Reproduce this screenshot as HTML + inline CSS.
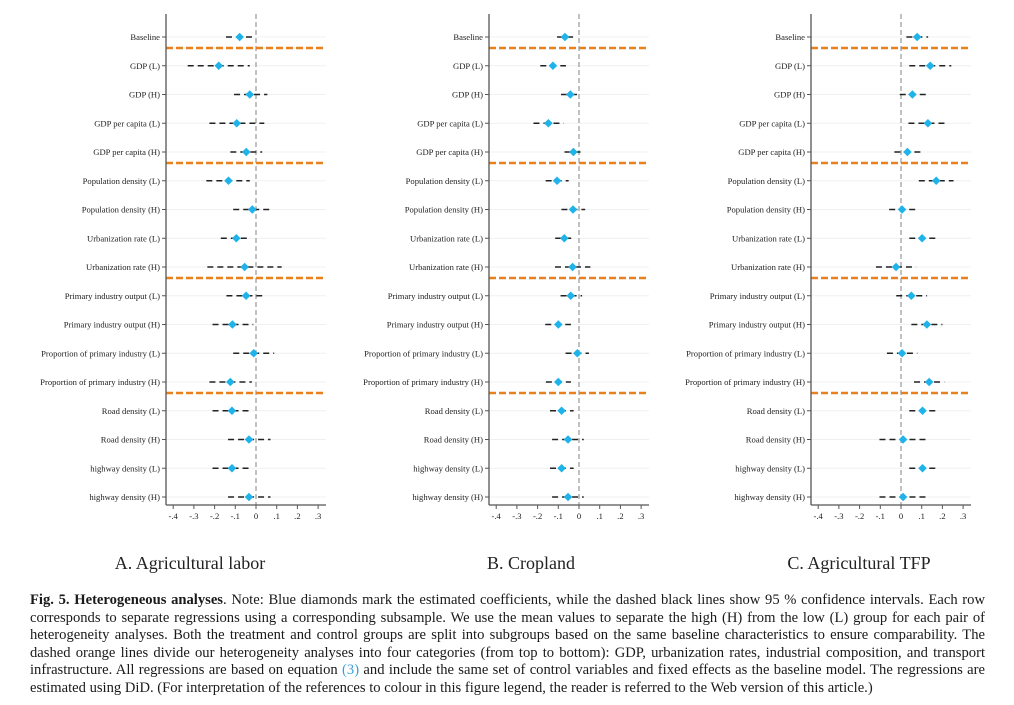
<!DOCTYPE html>
<html><head><meta charset="utf-8">
<style>
html,body{margin:0;padding:0;background:#fff;}
body{width:1014px;height:705px;position:relative;overflow:hidden;font-family:"Liberation Serif",serif;}
#fig{position:absolute;left:0;top:0;}
.ptitle{position:absolute;top:553px;font-size:18px;color:#222;white-space:nowrap;transform:translateX(-50%);}
#caption{position:absolute;left:30px;top:592px;width:955px;font-size:14.6px;line-height:17.5px;text-align:justify;color:#1a1a1a;}
#caption b{font-weight:bold;}
#caption .ref{color:#3aa0d8;}
</style></head>
<body>
<svg id="fig" width="1014" height="540" xmlns="http://www.w3.org/2000/svg"></svg>
<div class="ptitle" style="left:190px">A. Agricultural labor</div>
<div class="ptitle" style="left:531px">B. Cropland</div>
<div class="ptitle" style="left:859px">C. Agricultural TFP</div>
<div id="caption"><b>Fig. 5. Heterogeneous analyses</b>. Note: Blue diamonds mark the estimated coefficients, while the dashed black lines show 95 % confidence intervals. Each row corresponds to separate regressions using a corresponding subsample. We use the mean values to separate the high (H) from the low (L) group for each pair of heterogeneity analyses. Both the treatment and control groups are split into subgroups based on the same baseline characteristics to ensure comparability. The dashed orange lines divide our heterogeneity analyses into four categories (from top to bottom): GDP, urbanization rates, industrial composition, and transport infrastructure. All regressions are based on equation <span class="ref">(3)</span> and include the same set of control variables and fixed effects as the baseline model. The regressions are estimated using DiD. (For interpretation of the references to colour in this figure legend, the reader is referred to the Web version of this article.)</div>
<script>
const categories = ["Baseline","GDP (L)","GDP (H)","GDP per capita (L)","GDP per capita (H)","Population density (L)","Population density (H)","Urbanization rate (L)","Urbanization rate (H)","Primary industry output (L)","Primary industry output (H)","Proportion of primary industry (L)","Proportion of primary industry (H)","Road density (L)","Road density (H)","highway density (L)","highway density (H)"];
const tickValues = [-0.4,-0.3,-0.2,-0.1,0,0.1,0.2,0.3];
const tickLabels = ["-.4","-.3","-.2","-.1","0",".1",".2",".3"];
const dividerAfter = [0,4,8,12];
const coefA = [-0.079,-0.18,-0.03,-0.093,-0.047,-0.133,-0.018,-0.095,-0.055,-0.048,-0.114,-0.011,-0.124,-0.116,-0.034,-0.116,-0.034];
const lowA  = [-0.145,-0.33,-0.106,-0.225,-0.124,-0.24,-0.11,-0.17,-0.235,-0.143,-0.21,-0.11,-0.225,-0.21,-0.135,-0.21,-0.135];
const highA = [-0.016,-0.03,0.055,0.04,0.03,-0.03,0.064,-0.026,0.124,0.03,-0.013,0.088,-0.02,-0.018,0.07,-0.018,0.07];
const coefB = [-0.068,-0.126,-0.042,-0.148,-0.027,-0.106,-0.029,-0.071,-0.031,-0.04,-0.1,-0.008,-0.1,-0.084,-0.053,-0.084,-0.053];
const lowB  = [-0.106,-0.187,-0.087,-0.22,-0.07,-0.161,-0.085,-0.115,-0.116,-0.089,-0.163,-0.065,-0.16,-0.14,-0.13,-0.14,-0.13];
const highB = [-0.026,-0.063,0,-0.074,0.011,-0.05,0.03,-0.032,0.055,0.015,-0.039,0.048,-0.039,-0.026,0.023,-0.026,0.023];
const coefC = [0.078,0.141,0.055,0.13,0.031,0.17,0.005,0.102,-0.024,0.05,0.125,0.005,0.136,0.104,0.01,0.104,0.01];
const lowC  = [0.026,0.04,-0.006,0.036,-0.032,0.086,-0.057,0.04,-0.121,-0.023,0.05,-0.068,0.063,0.04,-0.104,0.04,-0.104];
const highC = [0.131,0.243,0.123,0.214,0.096,0.254,0.073,0.167,0.073,0.126,0.2,0.079,0.209,0.167,0.12,0.167,0.12];

const NS="http://www.w3.org/2000/svg";
const svg=document.getElementById('fig');
function mk(tag,attrs,parent){const e=document.createElementNS(NS,tag);for(const k in attrs)e.setAttribute(k,attrs[k]);(parent||svg).appendChild(e);return e;}
const rowY0=37, rowStep=28.75, scale=207;
function yPos(i){return rowY0+i*rowStep;}

const panels=[
 {key:'a',axisX:166,zeroX:256,coef:coefA,low:lowA,high:highA},
 {key:'b',axisX:489,zeroX:579,coef:coefB,low:lowB,high:highB},
 {key:'c',axisX:811,zeroX:901,coef:coefC,low:lowC,high:highC}
];
panels.forEach(p=>{
  const g=mk('g',{});
  
  
  const xPos=v=>p.zeroX+v*scale;
  const right=p.zeroX+70, bottom=505;
  categories.forEach((c,i)=>{
    const gl=mk('line',{x1:p.axisX,x2:right,y1:yPos(i),y2:yPos(i),stroke:'#eef1f3','stroke-width':1},g);
    
    
  });
  const zl=mk('line',{x1:p.zeroX,x2:p.zeroX,y1:14,y2:bottom,stroke:'#9a9a9a','stroke-width':1.2,'stroke-dasharray':'5,3'},g);
  
  
  dividerAfter.forEach(i=>{
    const y=yPos(i)+11;
    const d=mk('line',{x1:p.axisX,x2:right,y1:y,y2:y,stroke:'#e8801e','stroke-width':2.6,'stroke-dasharray':'7,3'},g);
    
    
  });
  const ya=mk('line',{x1:p.axisX,x2:p.axisX,y1:14,y2:bottom,stroke:'#555','stroke-width':1.3},g);
  
  
  categories.forEach((c,i)=>{
    mk('line',{x1:p.axisX-4,x2:p.axisX,y1:yPos(i),y2:yPos(i),stroke:'#555','stroke-width':1},g);
    const t=mk('text',{x:p.axisX-6,y:yPos(i)+3,'text-anchor':'end','font-size':'8.6','font-family':'Liberation Serif, serif',fill:'#222'},g);
    t.textContent=c;
    
    
  });
  const xa=mk('line',{x1:p.axisX,x2:right,y1:bottom,y2:bottom,stroke:'#555','stroke-width':1.3},g);
  
  
  tickValues.forEach((v,k)=>{
    mk('line',{x1:xPos(v),x2:xPos(v),y1:bottom,y2:bottom+4,stroke:'#555','stroke-width':1},g);
    const t=mk('text',{x:xPos(v),y:bottom+14,'text-anchor':'middle','font-size':'8.6','font-family':'Liberation Serif, serif',fill:'#222'},g);
    t.textContent=tickLabels[k];
    
    
  });
  categories.forEach((c,i)=>{
    const y=yPos(i);
    const ci=mk('line',{x1:xPos(p.low[i]),x2:xPos(p.high[i]),y1:y,y2:y,stroke:'#222','stroke-width':1.4,'stroke-dasharray':'6,4'},g);
    
    
    const x=xPos(p.coef[i]), r=4.3;
    const dm=mk('polygon',{points:`${x},${y-r} ${x+r},${y} ${x},${y+r} ${x-r},${y}`,fill:'#1fb3ea'},g);
    
    
  });
});
</script>
</body></html>
